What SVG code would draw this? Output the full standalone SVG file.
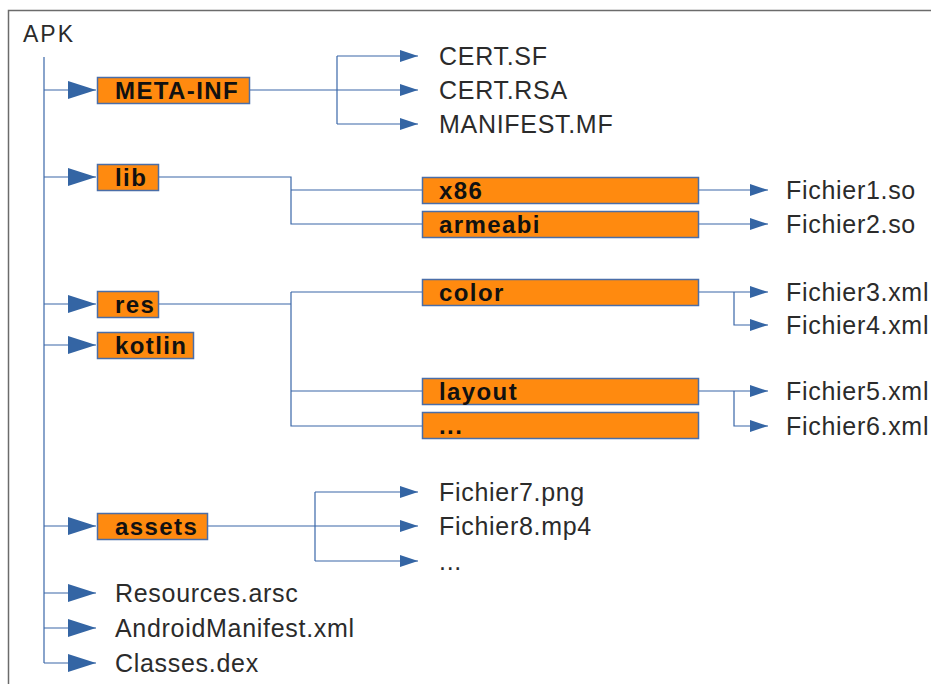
<svg xmlns="http://www.w3.org/2000/svg" width="931" height="684" viewBox="0 0 931 684">
  <style>
    .frame { fill: none; stroke: #6b6b6b; stroke-width: 1.5; }
    .link { fill: none; stroke: #3a67a8; stroke-width: 1.2; }
    .box { fill: #ff8a0f; stroke: #4a6ea8; stroke-width: 1.5; }
    .dir { font-family: "Liberation Sans", Arial, sans-serif; font-weight: bold; font-size: 24px; letter-spacing: 1.4px; fill: #111; }
    .file { font-family: "Liberation Sans", Arial, sans-serif; font-size: 25px; letter-spacing: 0.7px; fill: #2b2b2b; }
    .root { font-family: "Liberation Sans", Arial, sans-serif; font-size: 23px; letter-spacing: 2px; fill: #2b2b2b; }
  </style>
  <defs>
    <marker id="big" markerUnits="userSpaceOnUse" markerWidth="28" markerHeight="18" refX="28" refY="9" orient="auto">
      <path d="M0,0 L28,9 L0,18 z" fill="#3465a4"/>
    </marker>
    <marker id="small" markerUnits="userSpaceOnUse" markerWidth="18" markerHeight="12" refX="18" refY="6" orient="auto">
      <path d="M0,0 L18,6 L0,12 z" fill="#3465a4"/>
    </marker>
  </defs>

  <rect width="931" height="684" fill="#ffffff"/>
  <!-- outer frame (right and bottom edges lie outside the canvas) -->
  <path class="frame" d="M8.5,690 V10.5 H940"/>

  <g id="apk">
    <text class="root" x="23" y="42">APK</text>
  </g>

  <g id="connectors">
    <!-- trunk -->
    <path class="link" d="M44,57 V663"/>
    <path class="link" d="M44,90 H96" marker-end="url(#big)"/>
    <path class="link" d="M44,177 H96" marker-end="url(#big)"/>
    <path class="link" d="M44,304 H96" marker-end="url(#big)"/>
    <path class="link" d="M44,345 H96" marker-end="url(#big)"/>
    <path class="link" d="M44,526 H96" marker-end="url(#big)"/>
    <path class="link" d="M44,593 H96" marker-end="url(#big)"/>
    <path class="link" d="M44,628 H96" marker-end="url(#big)"/>
    <path class="link" d="M44,663 H96" marker-end="url(#big)"/>

    <!-- META-INF -->
    <path class="link" d="M250,90 H418" marker-end="url(#small)"/>
    <path class="link" d="M337,56 V124"/>
    <path class="link" d="M337,56 H418" marker-end="url(#small)"/>
    <path class="link" d="M337,124 H418" marker-end="url(#small)"/>

    <!-- lib -->
    <path class="link" d="M159,177 H291 V224 H422"/>
    <path class="link" d="M291,190 H422"/>
    <path class="link" d="M699,190 H768" marker-end="url(#small)"/>
    <path class="link" d="M699,224 H768" marker-end="url(#small)"/>

    <!-- res -->
    <path class="link" d="M159,304 H291"/>
    <path class="link" d="M291,292 V426 H422"/>
    <path class="link" d="M291,292 H422"/>
    <path class="link" d="M291,391 H422"/>
    <path class="link" d="M699,292 H768" marker-end="url(#small)"/>
    <path class="link" d="M734,292 V325 H768" marker-end="url(#small)"/>
    <path class="link" d="M699,391 H768" marker-end="url(#small)"/>
    <path class="link" d="M734,391 V426 H768" marker-end="url(#small)"/>

    <!-- assets -->
    <path class="link" d="M207,526 H418" marker-end="url(#small)"/>
    <path class="link" d="M315,492 V561"/>
    <path class="link" d="M315,492 H418" marker-end="url(#small)"/>
    <path class="link" d="M315,561 H418" marker-end="url(#small)"/>
  </g>

  <g id="meta-inf">
    <rect class="box" x="97.5" y="77.5" width="152" height="26"/>
    <text class="dir" x="115" y="99">META-INF</text>
  </g>
  <g id="cert-sf"><text class="file" x="439" y="65">CERT.SF</text></g>
  <g id="cert-rsa"><text class="file" x="439" y="99">CERT.RSA</text></g>
  <g id="manifest-mf"><text class="file" x="439" y="133">MANIFEST.MF</text></g>

  <g id="lib">
    <rect class="box" x="97.5" y="164.5" width="61" height="26"/>
    <text class="dir" x="115" y="186">lib</text>
  </g>
  <g id="x86">
    <rect class="box" x="422.5" y="177.5" width="276" height="26"/>
    <text class="dir" x="439" y="199">x86</text>
  </g>
  <g id="armeabi">
    <rect class="box" x="422.5" y="211.5" width="276" height="26"/>
    <text class="dir" x="439" y="233">armeabi</text>
  </g>
  <g id="fichier1"><text class="file" x="786" y="199">Fichier1.so</text></g>
  <g id="fichier2"><text class="file" x="786" y="233">Fichier2.so</text></g>

  <g id="res">
    <rect class="box" x="97.5" y="291.5" width="61" height="26"/>
    <text class="dir" x="115" y="313">res</text>
  </g>
  <g id="color">
    <rect class="box" x="422.5" y="279.5" width="276" height="26"/>
    <text class="dir" x="439" y="301">color</text>
  </g>
  <g id="layout">
    <rect class="box" x="422.5" y="378.5" width="276" height="26"/>
    <text class="dir" x="439" y="400">layout</text>
  </g>
  <g id="res-more">
    <rect class="box" x="422.5" y="412.5" width="276" height="26"/>
    <text class="dir" x="439" y="434">...</text>
  </g>
  <g id="fichier3"><text class="file" x="786" y="301">Fichier3.xml</text></g>
  <g id="fichier4"><text class="file" x="786" y="334">Fichier4.xml</text></g>
  <g id="fichier5"><text class="file" x="786" y="400">Fichier5.xml</text></g>
  <g id="fichier6"><text class="file" x="786" y="435">Fichier6.xml</text></g>

  <g id="kotlin">
    <rect class="box" x="97.5" y="332.5" width="96" height="26"/>
    <text class="dir" x="115" y="354">kotlin</text>
  </g>

  <g id="assets">
    <rect class="box" x="97.5" y="513.5" width="110" height="26"/>
    <text class="dir" x="115" y="535">assets</text>
  </g>
  <g id="fichier7"><text class="file" x="439" y="501">Fichier7.png</text></g>
  <g id="fichier8"><text class="file" x="439" y="535">Fichier8.mp4</text></g>
  <g id="assets-more"><text class="file" x="439" y="570">...</text></g>

  <g id="resources-arsc"><text class="file" x="115" y="602">Resources.arsc</text></g>
  <g id="android-manifest"><text class="file" x="115" y="637">AndroidManifest.xml</text></g>
  <g id="classes-dex"><text class="file" x="115" y="672">Classes.dex</text></g>
</svg>
